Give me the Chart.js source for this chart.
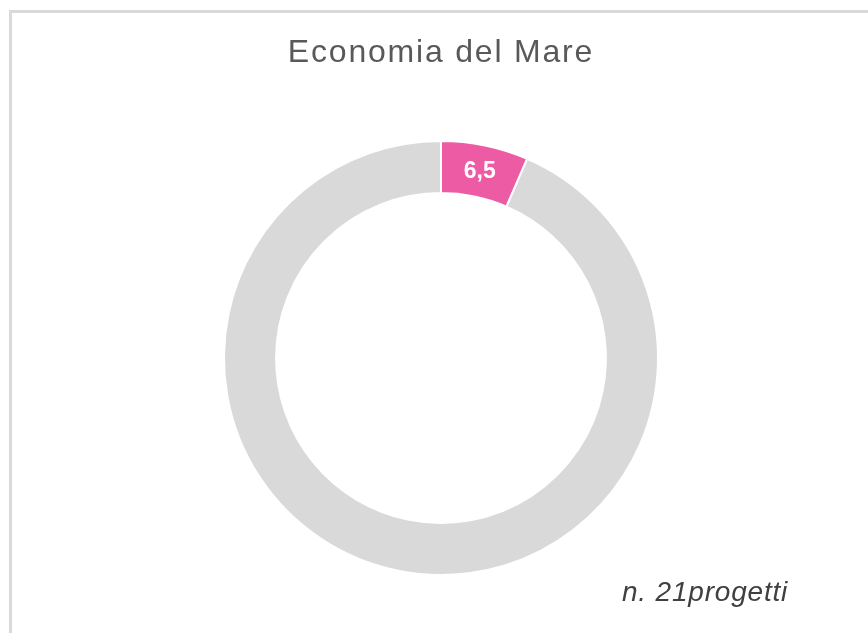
<!DOCTYPE html>
<html>
<head>
<meta charset="utf-8">
<script src="https://cdn.jsdelivr.net/npm/chart.js@4/dist/chart.umd.min.js"></script>
<style>
  html, body { margin: 0; padding: 0; background: #fff; overflow: hidden; }
  #wrap { position: relative; width: 868px; height: 633px; }
  #frame { position: absolute; left: 9px; top: 10px; width: 900px; height: 700px;
           border: 3px solid #d9d9d9; box-sizing: border-box; }
  #title { position: absolute; left: 191px; width: 500px; top: 31px; text-align: center;
           font-family: "Liberation Sans", Arial, sans-serif; font-size: 32px; letter-spacing: 1.8px;
           color: #595959; line-height: 40px; }
  #note { position: absolute; left: 622px; top: 576px; font-family: "Liberation Sans", Arial, sans-serif;
          font-style: italic; font-size: 28px; letter-spacing: 0.8px; color: #404040; }
  canvas { position: absolute; left: 0; top: 0; }
</style>
</head>
<body>
<div id="wrap">
  <div id="frame"></div>
  <canvas id="doughnut-chart" width="868" height="633"></canvas>
  <div id="title">Economia del Mare</div>
  <div id="note">n. 21progetti</div>
</div>
<script>
const labels = ["Economia del Mare", "Altro"];
const values = [6.5, 93.5];
const colors = ["#ee5ba5", "#d9d9d9"];

const DoughnutCtx = document.getElementById("doughnut-chart");

// label inside the first slice
const sliceLabel = {
  id: "sliceLabel",
  afterDatasetsDraw(chart) {
    const ctx = chart.ctx;
    const arc = chart.getDatasetMeta(0).data[0];
    const pos = arc.tooltipPosition();
    ctx.save();
    ctx.fillStyle = "#fff";
    ctx.font = "bold 23px 'Liberation Sans', Arial, sans-serif";
    ctx.textAlign = "center";
    ctx.textBaseline = "middle";
    ctx.fillText(String(values[0]).replace(".", ","), pos.x, pos.y + 1);
    ctx.restore();
  },
};

new Chart(DoughnutCtx, {
  type: "doughnut",
  data: {
    labels: labels,
    datasets: [
      {
        data: values,
        backgroundColor: colors,
        borderColor: "#fff",
        borderWidth: 2,
        hoverOffset: 0,
      },
    ],
  },
  options: {
    responsive: false,
    animation: false,
    cutout: "76%",
    layout: { padding: { top: 140, bottom: 57, left: 223, right: 209 } },
    plugins: {
      legend: { display: false },
      tooltip: { enabled: false },
      title: { display: false },
    },
  },
  plugins: [sliceLabel],
});
</script>
</body>
</html>
